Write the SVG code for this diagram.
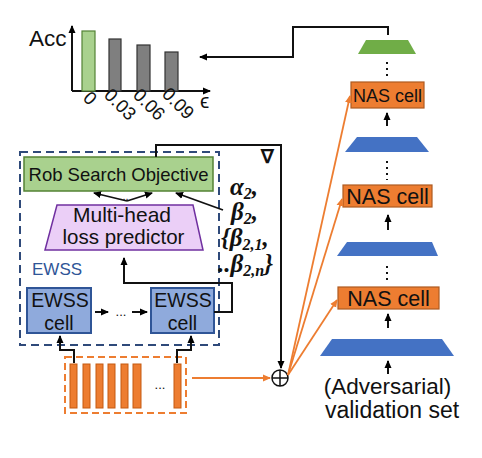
<svg xmlns="http://www.w3.org/2000/svg" width="482" height="458" viewBox="0 0 482 458">
<defs>
<marker id="ab" markerWidth="8" markerHeight="8" refX="7" refY="4" orient="auto" markerUnits="userSpaceOnUse"><path d="M0,0.5 L8,4 L0,7.5 Z" fill="#000"/></marker>
<marker id="ao" markerWidth="8" markerHeight="8" refX="7" refY="4" orient="auto" markerUnits="userSpaceOnUse"><path d="M0,0.5 L8,4 L0,7.5 Z" fill="#ED7D31"/></marker>
<style>
.t{font-family:"Liberation Sans",Arial,sans-serif;fill:#111}
.g{font-family:"Liberation Serif","DejaVu Serif",serif;font-weight:bold;font-style:italic;fill:#111}
.blk{stroke:#111;stroke-width:2;fill:none}
.org{stroke:#ED7D31;stroke-width:1.8;fill:none}
.nas{fill:#ED7D31;stroke:#AE5A21;stroke-width:1.2}
.blue{fill:#4472C4}
.ewss{fill:#8FAADC;stroke:#2F5597;stroke-width:2}
.bar{fill:#ED7D31;stroke:#C55A11;stroke-width:1}
.dots{stroke:#111;stroke-width:2;stroke-dasharray:2 4;fill:none}
</style>
</defs>
<g id="chart">
<text class="t" x="29" y="46" font-size="22.5">Acc</text>
<line class="blk" x1="72" y1="91" x2="72" y2="26" marker-end="url(#ab)"/>
<line class="blk" x1="72" y1="91" x2="210" y2="91" marker-end="url(#ab)"/>
<rect x="82" y="31" width="13" height="60" fill="#A9D18E" stroke="#548235" stroke-width="1.2"/>
<rect x="109" y="39" width="12" height="52" fill="#7F7F7F" stroke="#333" stroke-width="1.2"/>
<rect x="137" y="45" width="13" height="46" fill="#7F7F7F" stroke="#333" stroke-width="1.2"/>
<rect x="165" y="52" width="13" height="39" fill="#7F7F7F" stroke="#333" stroke-width="1.2"/>
<text class="t" font-size="18.5" transform="translate(82,99) rotate(45)">0</text>
<text class="t" font-size="18.5" transform="translate(103,96) rotate(45)">0.03</text>
<text class="t" font-size="18.5" transform="translate(132,96) rotate(45)">0.06</text>
<text class="t" font-size="18.5" transform="translate(161,95) rotate(45)">0.09</text>
<text class="t" x="200" y="108" font-size="21">ϵ</text>
</g>
<g id="nas-stack">
<polygon points="366,40 408,40 416,54 358,54" fill="#70AD47"/>
<line class="dots" x1="387" y1="62" x2="387" y2="78"/>
<g id="nas1"><rect class="nas" x="351" y="82" width="73" height="26"/><text class="t" x="387.5" y="102" font-size="18" text-anchor="middle">NAS cell</text></g>
<line class="blk" x1="387" y1="126" x2="387" y2="113" marker-end="url(#ab)"/>
<polygon class="blue" points="357,137 417,137 429,152 345,152"/>
<line class="dots" x1="387" y1="161" x2="387" y2="180"/>
<g id="nas2"><rect class="nas" x="343" y="185" width="89" height="22"/><text class="t" x="387.5" y="203.5" font-size="21.5" text-anchor="middle">NAS cell</text></g>
<line class="blk" x1="388" y1="230" x2="388" y2="215" marker-end="url(#ab)"/>
<polygon class="blue" points="347,242 432,242 438,256 337,256"/>
<line class="dots" x1="387" y1="266" x2="387" y2="282"/>
<g id="nas3"><rect class="nas" x="338" y="287" width="101" height="22"/><text class="t" x="388.5" y="305.5" font-size="21.5" text-anchor="middle">NAS cell</text></g>
<line class="blk" x1="388" y1="328" x2="388" y2="314" marker-end="url(#ab)"/>
<polygon class="blue" points="332,339 442,339 454,356 320,356"/>
<line class="blk" x1="388" y1="374" x2="388" y2="361" marker-end="url(#ab)"/>
<text class="t" x="387.5" y="394" font-size="22.5" text-anchor="middle">(Adversarial)</text>
<text class="t" x="392" y="418" font-size="23" text-anchor="middle">validation set</text>
</g>
<g id="ewss">
<rect x="20" y="152" width="199" height="193" fill="none" stroke="#2F4A7A" stroke-width="2" stroke-dasharray="8 5"/>
<text x="32" y="275" font-size="17" font-family="Liberation Sans,Arial,sans-serif" fill="#2F5597">EWSS</text>
<g id="rob"><rect x="24" y="157" width="189" height="34" fill="#A9D18E" stroke="#548235" stroke-width="1.5"/><text class="t" x="118.5" y="181" font-size="18.5" text-anchor="middle">Rob Search Objective</text></g>
<g id="mhlp"><polygon points="57,205 193,205 203,250 45,250" fill="#EBCFF7" stroke="#7030A0" stroke-width="1.5"/><text class="t" x="122" y="222" font-size="21" text-anchor="middle">Multi-head</text><text class="t" x="123.5" y="244" font-size="20.5" text-anchor="middle">loss predictor</text></g>
<g id="cell1"><rect class="ewss" x="27" y="288" width="64" height="45"/><text class="t" x="60" y="307" font-size="19.5" text-anchor="middle">EWSS</text><text class="t" x="59" y="330" font-size="19.5" text-anchor="middle">cell</text></g>
<g id="cell2"><rect class="ewss" x="151" y="288" width="63" height="45"/><text class="t" x="183" y="307" font-size="19.5" text-anchor="middle">EWSS</text><text class="t" x="182.5" y="330" font-size="19.5" text-anchor="middle">cell</text></g>
</g>
<g id="betas">
<text class="g" x="230" y="195" font-size="25">α<tspan font-size="16" dy="4">2</tspan><tspan dy="-4">,</tspan></text>
<text class="g" x="231" y="220" font-size="25">β<tspan font-size="16" dy="4">2</tspan><tspan dy="-4">,</tspan></text>
<text class="g" x="221" y="246" font-size="25">{β<tspan font-size="16" dy="4">2,1</tspan><tspan dy="-4">,</tspan></text>
<text class="g" x="218" y="272" font-size="25">..β<tspan font-size="16" dy="4">2,n</tspan><tspan dy="-4">}</tspan></text>
</g>
<g id="inputs">
<rect x="65" y="357" width="121" height="56" fill="none" stroke="#ED7D31" stroke-width="2" stroke-dasharray="7 4"/>
<rect class="bar" x="70" y="364" width="7" height="44"/>
<rect class="bar" x="83" y="364" width="7" height="44"/>
<rect class="bar" x="96" y="364" width="7" height="44"/>
<rect class="bar" x="108" y="364" width="7" height="44"/>
<rect class="bar" x="121" y="364" width="7" height="44"/>
<rect class="bar" x="133" y="364" width="8" height="44"/>
<rect class="bar" x="174" y="364" width="7" height="44"/>
<text class="t" x="160" y="389" font-size="13" text-anchor="middle">...</text>
</g>
<g id="oplus">
<circle cx="280" cy="378" r="8" fill="none" stroke="#111" stroke-width="1.5"/>
<line x1="272" y1="378" x2="288" y2="378" stroke="#111" stroke-width="1.5"/>
<line x1="280" y1="370" x2="280" y2="386" stroke="#111" stroke-width="1.5"/>
</g>
<g id="connectors">
<polyline class="blk" points="388,35 388,27 293,27 293,57 200,57" marker-end="url(#ab)"/>
<polyline class="blk" points="156,157 156,145 281,145 281,368" marker-end="url(#ab)"/>
<text x="261" y="163" font-size="19" font-family="Liberation Sans,Arial,sans-serif" font-weight="bold" fill="#111">∇</text>
<line x1="127" y1="201" x2="94" y2="193" stroke="#111" stroke-width="1.8" marker-end="url(#ab)"/>
<line x1="127" y1="201" x2="152" y2="193" stroke="#111" stroke-width="1.8" marker-end="url(#ab)"/>
<text class="t" x="124" y="200" font-size="11" text-anchor="middle">...</text>
<line x1="223" y1="210" x2="176" y2="193" stroke="#111" stroke-width="1.8" marker-end="url(#ab)"/>
<polyline class="blk" points="214,312 232,312 232,283 124,283 124,258" marker-end="url(#ab)"/>
<line class="blk" x1="95" y1="312" x2="108" y2="312" marker-end="url(#ab)"/>
<text class="t" x="121" y="316" font-size="13" text-anchor="middle">...</text>
<line class="blk" x1="132" y1="312" x2="147" y2="312" marker-end="url(#ab)"/>
<polyline class="blk" points="74,363 74,350 60,350 60,336" marker-end="url(#ab)"/>
<polyline class="blk" points="177,363 177,350 191,350 191,336" marker-end="url(#ab)"/>
<line class="org" x1="192" y1="378" x2="270" y2="378" marker-end="url(#ao)"/>
<line class="org" x1="288" y1="375" x2="350" y2="96" marker-end="url(#ao)"/>
<line class="org" x1="288" y1="375" x2="342" y2="199" marker-end="url(#ao)"/>
<line class="org" x1="288" y1="375" x2="337" y2="300" marker-end="url(#ao)"/>
</g>
</svg>
